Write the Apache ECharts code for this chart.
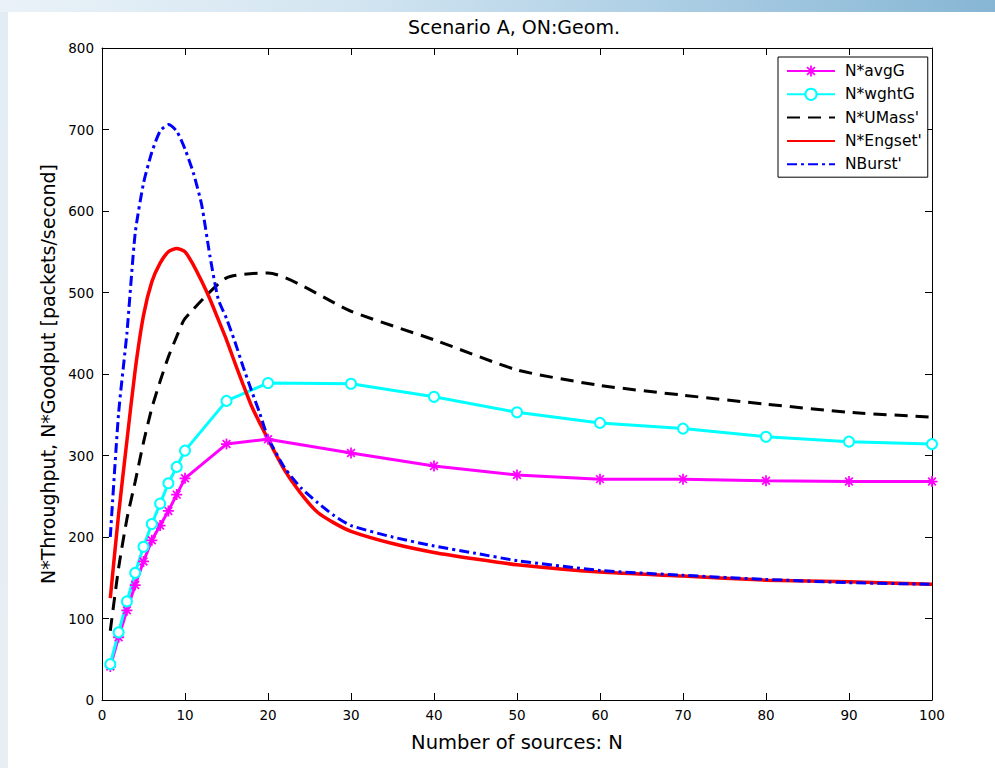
<!DOCTYPE html>
<html>
<head>
<meta charset="utf-8">
<title>Scenario A, ON:Geom.</title>
<script src="https://cdn.jsdelivr.net/npm/echarts@6/dist/echarts.min.js"></script>
<style>
  html, body { margin: 0; padding: 0; width: 995px; height: 768px; overflow: hidden; background: #ffffff; }
  #topband { position: absolute; left: 0; top: 0; width: 995px; height: 12px;
    background: linear-gradient(to right, #eaf2f8 0%, #d3e5f1 35%, #a9cce3 70%, #86b6d4 100%); }
  #leftband { position: absolute; left: 0; top: 12px; width: 8px; height: 756px;
    background: linear-gradient(to bottom, #e2ecf4 0%, #e9eef2 100%); }
  #chart { position: absolute; left: 0; top: 0; width: 995px; height: 768px; }
</style>
</head>
<body>
<div id="topband"></div>
<div id="leftband"></div>
<div id="chart"></div>
<script>
// Number of sources at which the averaged / weighted estimates were evaluated
const nMarked = [1, 2, 3, 4, 5, 6, 7, 8, 9, 10, 15, 20, 30, 40, 50, 60, 70, 80, 90, 100];
const avgG    = [41, 77, 110, 141, 170, 196, 214, 232, 252, 272, 314, 320, 303, 287, 276, 271, 271, 269, 268, 268];
const wghtG   = [44, 83, 121, 156, 188, 216, 241, 266, 286, 306, 367, 389, 388, 372, 353, 340, 333, 323, 317, 314];
const uMass   = [85, 162, 222, 268, 316, 358, 391, 421, 446, 468, 518, 524, 477, 442, 405, 386, 374, 363, 353, 347];

// Analytical model curves, sampled more densely
const nCurve  = [1, 2, 3, 4, 5, 6, 7, 8, 9, 10, 11, 12, 13, 14, 15, 16, 17, 18, 19, 20, 22, 24, 26, 28, 30, 35, 40, 45, 50, 60, 70, 80, 90, 100];
const engset  = [125, 228, 318, 405, 472, 513, 536, 550, 554, 550, 534, 514, 492, 467, 442, 414, 387, 361, 340, 320, 282, 253, 230, 217, 207, 192, 181, 173, 166, 157, 152, 147, 145, 142];
const burst   = [200, 352, 450, 573, 634, 672, 698, 706, 698, 676, 647, 608, 545, 492, 468, 440, 409, 380, 352, 322, 285, 260, 242, 226, 214, 200, 189, 180, 171, 159, 153, 148, 144, 142];

const seriesNames = ["N*avgG", "N*wghtG", "N*UMass'", "N*Engset'", "NBurst'"];
const titleText = 'Scenario A, ON:Geom.';
const xTicks = { min: 0, max: 100, step: 10 };
const yTicks = { min: 0, max: 800, step: 100 };

const pairs = (xs, ys) => xs.map((x, i) => [x, ys[i]]);

// MATLAB-style '*' marker: plus and cross bars
const asterisk = 'path://M-0.8,-5L0.8,-5L0.8,5L-0.8,5Z' +
  'M-5,-0.8L5,-0.8L5,0.8L-5,0.8Z' +
  'M-2.97,-4.07L4.07,2.97L2.97,4.07L-4.07,-2.97Z' +
  'M2.97,-4.07L4.07,-2.97L-2.97,4.07L-4.07,2.97Z';

const font = '"DejaVu Sans", Verdana, sans-serif';

function frameAxis(base, extra) {
  return Object.assign({
    type: 'value',
    min: base.min, max: base.max, interval: base.step,
    axisLine: { show: true, onZero: false, lineStyle: { color: '#000', width: 1 } },
    axisTick: { show: true, inside: true, length: 7, lineStyle: { color: '#000', width: 1 } },
    splitLine: { show: false },
    axisLabel: { show: false }
  }, extra);
}

// legend entries: curves without markers show only their line sample
const legendData = seriesNames.map((name, i) =>
  i < 2 ? { name } : { name, itemStyle: { opacity: 0 } });

const chart = echarts.init(document.getElementById('chart'), null, { renderer: 'svg' });

chart.setOption({
  animation: false,
  backgroundColor: 'transparent',
  graphic: [
    { type: 'rect', z: -10, shape: { x: 8, y: 12, width: 987, height: 756 }, style: { fill: '#ffffff' } },
    { type: 'text', x: 514, y: 17, z: 10,
      style: { text: titleText, align: 'center', verticalAlign: 'top',
               fill: '#000', font: '19px ' + font } }
  ],
  grid: { left: 102, right: 63, top: 48, bottom: 68, containLabel: false },
  legend: {
    data: legendData,
    orient: 'vertical',
    left: 778, top: 57,
    padding: [6, 6, 5, 8],
    itemWidth: 48, itemHeight: 14, itemGap: 7.3,
    borderColor: '#000', borderWidth: 1, borderRadius: 0,
    backgroundColor: '#fff',
    textStyle: { color: '#000', fontSize: 15.5, lineHeight: 14, fontFamily: font, padding: [0, 0, 0, 5] }
  },
  xAxis: [
    frameAxis(xTicks, {
      position: 'bottom',
      name: 'Number of sources: N', nameLocation: 'middle', nameGap: 32,
      nameTextStyle: { color: '#000', fontSize: 19.5, fontFamily: font },
      axisLabel: { show: true, color: '#000', fontSize: 13.5, fontFamily: font, margin: 8 }
    }),
    frameAxis(xTicks, { position: 'top' })
  ],
  yAxis: [
    frameAxis(yTicks, {
      position: 'left',
      name: 'N*Throughput, N*Goodput [packets/second]', nameLocation: 'middle', nameGap: 44,
      nameTextStyle: { color: '#000', fontSize: 19, fontFamily: font },
      axisLabel: { show: true, color: '#000', fontSize: 13.5, fontFamily: font, margin: 8 }
    }),
    frameAxis(yTicks, { position: 'right' })
  ],
  series: [
    {
      name: seriesNames[0], type: 'line', data: pairs(nMarked, avgG),
      symbol: asterisk, symbolSize: 11, showAllSymbol: true,
      lineStyle: { color: '#ff00ff', width: 3 },
      itemStyle: { color: '#ff00ff', borderWidth: 0 }
    },
    {
      name: seriesNames[1], type: 'line', data: pairs(nMarked, wghtG),
      symbol: 'emptyCircle', symbolSize: 10, showAllSymbol: true,
      lineStyle: { color: '#00ffff', width: 3 },
      itemStyle: { color: '#00ffff', borderColor: '#00ffff', borderWidth: 3 }
    },
    {
      name: seriesNames[2], type: 'line', data: pairs(nMarked, uMass),
      symbol: 'none', smooth: 0.2,
      lineStyle: { color: '#000000', width: 3, type: [13, 8] },
      itemStyle: { color: '#000000' }
    },
    {
      name: seriesNames[3], type: 'line', data: pairs(nCurve, engset),
      symbol: 'none', smooth: 0.2,
      lineStyle: { color: '#ff0000', width: 3.5 },
      itemStyle: { color: '#ff0000' }
    },
    {
      name: seriesNames[4], type: 'line', data: pairs(nCurve, burst),
      symbol: 'none', smooth: 0.2,
      lineStyle: { color: '#0000ff', width: 3, type: [10, 4, 3, 4] },
      itemStyle: { color: '#0000ff' }
    }
  ]
});
</script>
</body>
</html>
